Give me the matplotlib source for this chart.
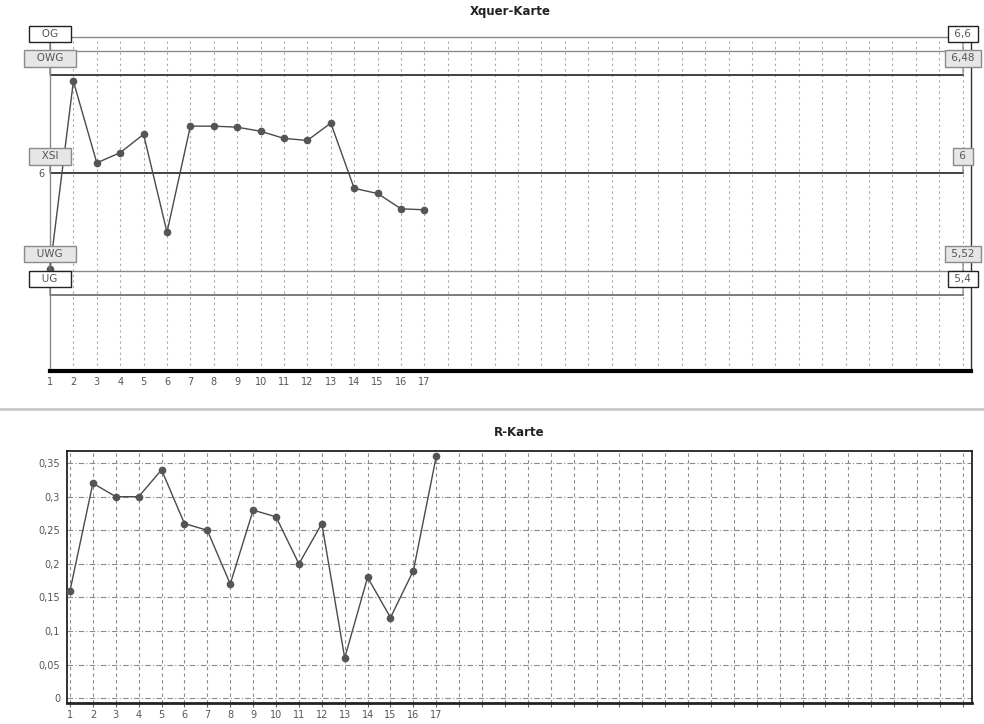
import numpy as np
import matplotlib
matplotlib.use('Agg')
import matplotlib.pyplot as plt
from matplotlib.lines import Line2D

# sample numbers and values
samples = list(range(1, 18))
xquer = [5.53, 6.45, 6.05, 6.10, 6.19, 5.71, 6.23, 6.23, 6.225, 6.205,
         6.17, 6.16, 6.245, 5.925, 5.90, 5.825, 5.82]
rwerte = [0.16, 0.32, 0.30, 0.30, 0.34, 0.26, 0.25, 0.17, 0.28, 0.27,
          0.20, 0.26, 0.06, 0.18, 0.12, 0.19, 0.36]

# control limits of the Xquer chart
grenz_namen = ['OG', 'OWG', 'XSI', 'UWG', 'UG']
grenz_werte = [6.6, 6.48, 6.0, 5.52, 5.4]
grenz_texte = ['6,6', '6,48', '6', '5,52', '5,4']

r_ticks = [0, 0.05, 0.1, 0.15, 0.2, 0.25, 0.3, 0.35]
r_ticklabels = ['0', '0,05', '0,1', '0,15', '0,2', '0,25', '0,3', '0,35']

plt.rcParams['font.family'] = ['DejaVu Sans']
fig = plt.figure(figsize=(9.84, 7.24), dpi=100)

txt_col = '#555555'
line_col = '#4a4a4a'

##################################################################################################
# Xquer-Karte
ax1 = fig.add_axes([0.0508, 0.4876, 0.936, 0.4613])
ax1.set_xlim(1, 40.36)
ax1.set_ylim(5.03, 6.667)
for s in ['top', 'left', 'right']:
    ax1.spines[s].set_color('#8a8a8a')
    ax1.spines[s].set_linewidth(1.0)
ax1.spines['right'].set_color('#333333')
ax1.spines['bottom'].set_color('black')
ax1.spines['bottom'].set_linewidth(3)

for xi in range(2, 41):
    ax1.axvline(xi, color='#a8a8a8', lw=0.8, ls=(0, (2, 3)), zorder=1)

xend = (963 - 50) / 921.0
styles = {'OG': ('#8a8a8a', 1.0), 'OWG': ('#333333', 1.3), 'XSI': ('#333333', 1.3),
          'UWG': ('#8a8a8a', 1.0), 'UG': ('#666666', 1.2)}
for name, val, lab in zip(grenz_namen, grenz_werte, grenz_texte):
    col, lw = styles[name]
    ax1.axhline(val, xmin=0, xmax=xend, color=col, lw=lw, zorder=2)
    hart = name in ('OG', 'UG')
    face = 'white' if hart else '#e6e6e6'
    edge = '#222222' if hart else '#8a8a8a'
    for xp, t in [(1, '   ' + name + '   '), (1 + xend * 39.36, ' ' + lab + ' ')]:
        ax1.annotate(t, xy=(xp, val), xytext=(0, 12), textcoords='offset points',
                     ha='center', va='center', fontsize=7.5, color=txt_col,
                     bbox=dict(boxstyle='square,pad=0.3', fc=face, ec=edge, lw=1.0),
                     arrowprops=dict(arrowstyle='-', color='#777777', lw=0.8,
                                     shrinkA=0, shrinkB=0),
                     annotation_clip=False, zorder=5)

ax1.plot(samples, xquer, color=line_col, lw=1.0, marker='o', ms=4.5,
         mfc='#555555', mec='#555555', zorder=4, clip_on=False)

ax1.set_xticks(samples)
ax1.set_xticklabels([str(s) for s in samples])
ax1.set_yticks([6])
ax1.set_yticklabels(['6'])
ax1.tick_params(axis='both', length=0, labelsize=7, labelcolor=txt_col, pad=4)
ax1.set_title('Xquer-Karte', fontsize=8.5, fontweight='bold', color='#222222', pad=15.5)

##################################################################################################
# separator between the two charts
fig.add_artist(Line2D([0, 1], [1 - 409 / 724.0, 1 - 409 / 724.0], color='#c8c8c8', lw=2))

##################################################################################################
# R-Karte
ax2 = fig.add_axes([0.0681, 0.029, 0.9197, 0.3481])
ax2.set_xlim(0.87, 40.4)
ax2.set_ylim(-0.007, 0.368)
for s in ax2.spines.values():
    s.set_color('#222222')
    s.set_linewidth(1.3)
ax2.spines['bottom'].set_linewidth(2)

for xi in range(1, 41):
    ax2.axvline(xi, color='#8a8a8a', lw=0.8, ls=(0, (3, 3)), zorder=1)
for yv in r_ticks:
    ax2.axhline(yv, color='#8a8a8a', lw=0.8, ls=(0, (5, 2, 1, 2)), zorder=1)

ax2.plot(samples, rwerte, color=line_col, lw=1.0, marker='o', ms=4.5,
         mfc='#555555', mec='#555555', zorder=4, clip_on=False)

ax2.set_xticks(range(1, 41))
ax2.set_xticklabels([str(s) if s <= 17 else '' for s in range(1, 41)])
ax2.set_yticks(r_ticks)
ax2.set_yticklabels(r_ticklabels)
ax2.tick_params(axis='x', length=3, color='#666666', labelsize=7, labelcolor=txt_col, pad=2)
ax2.tick_params(axis='y', length=0, labelsize=7, labelcolor=txt_col, pad=5)
ax2.set_title('R-Karte', fontsize=8.5, fontweight='bold', color='#222222', pad=10.5)

fig.savefig('out.png', dpi=100)
